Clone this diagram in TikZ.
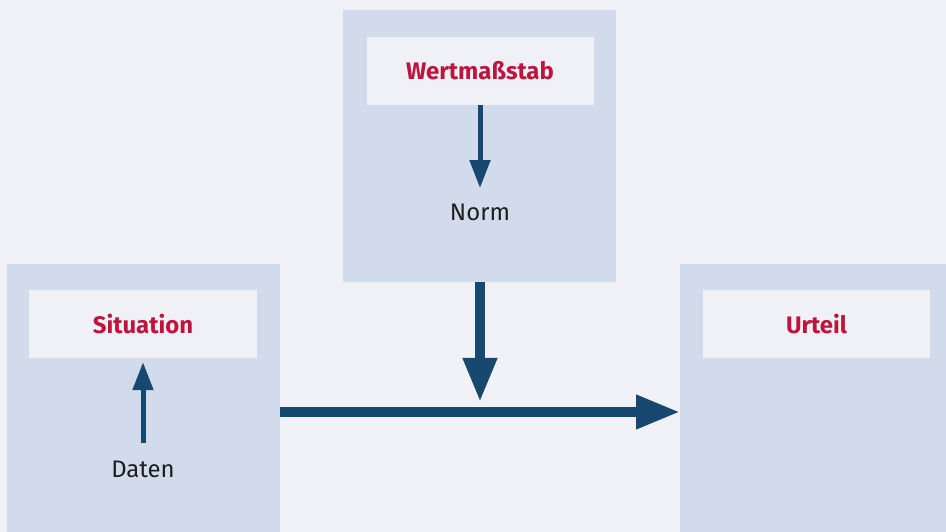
\documentclass[tikz,border=0pt]{standalone}
\usepackage{fontspec}
\setmainfont{Fira Sans}
\usepackage{tikz}
\usetikzlibrary{arrows.meta}

\definecolor{paper}{HTML}{EFF1F7}
\definecolor{panel}{HTML}{D1DBEC}
\definecolor{arrowblue}{HTML}{174870}
\definecolor{titlered}{HTML}{C0143C}
\definecolor{ink}{HTML}{1E1E1E}

\begin{document}
\begin{tikzpicture}[x=1bp, y=-1bp,
    panelbox/.style={fill=panel, anchor=north west, inner sep=0pt,
        minimum width=273bp, minimum height=280bp},
    titlebox/.style={fill=paper, inner sep=0pt, minimum width=227bp,
        minimum height=68bp, text=titlered, font=\fontsize{24}{28}\selectfont\bfseries},
    plain/.style={text=ink, font=\fontsize{24}{28}\selectfont},
    thin arrow/.style={draw=arrowblue, line width=5bp,
        -{Triangle[length=28bp, width=20bp]}},
    thick arrow/.style={draw=arrowblue, line width=10bp,
        -{Triangle[length=44bp, width=32bp]}}]
    \fill[paper] (0,0) rectangle (946,532);
    \useasboundingbox (0,0) rectangle (946,532);
    \begin{scope}
        \clip (0,0) rectangle (946,532);
        \node[panelbox, minimum height=272bp] (normpanel) at (343,10) {};
        \node[panelbox] (situationpanel) at (7,264) {};
        \node[panelbox] (urteilpanel) at (680,264) {};
    \end{scope}
    \node[titlebox] (wert) at (480,71) {Wertmaßstab};
    \node[titlebox] (situation) at (143,324) {Situation};
    \node[titlebox] (urteil) at (816.5,324) {Urteil};
    \node[plain] (norm) at (480,212) {Norm};
    \node[plain] (daten) at (143,469) {Daten};
    \coordinate (join) at (480,412);
    \draw[thin arrow, shorten >=12bp] (wert) -- (norm);
    \draw[thin arrow, shorten <=14bp, shorten >=4bp] (daten) -- (situation);
    \draw[thick arrow, shorten >=10bp] (normpanel.south -| join) -- (join);
    \draw[thick arrow] (situationpanel.east |- join) -- (urteilpanel.west |- join);
\end{tikzpicture}
\end{document}
